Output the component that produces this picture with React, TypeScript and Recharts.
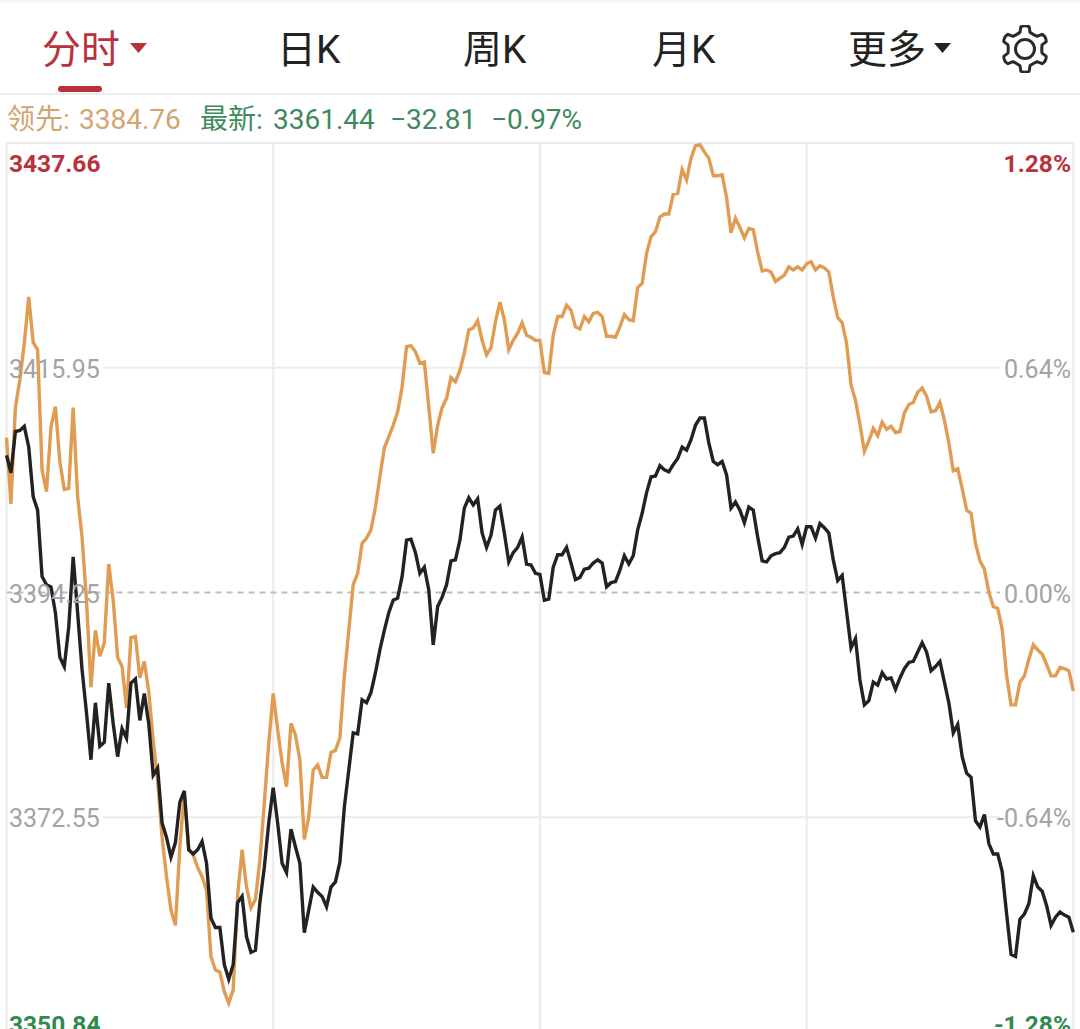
import React from "react";
import { LineChart, Line, XAxis, YAxis, ReferenceLine } from "recharts";

const minutes: number[] = Array.from({ length: 241 }, (_, i) => i);

const leadValues = [
3409.2,3402.8,3412.1,3414.8,3418.3,3422.8,3418.4,3417.7,3406.1,3404.0,
3410.2,3412.2,3406.9,3404.2,3404.3,3412.1,3403.5,3399.6,3393.5,3385.1,
3390.6,3388.1,3389.4,3397.0,3393.5,3388.0,3387.1,3383.1,3389.9,3390.0,
3386.0,3387.6,3384.7,3380.0,3376.1,3370.6,3366.8,3363.6,3362.1,3369.7,
3374.9,3369.4,3368.9,3367.7,3366.8,3365.5,3359.1,3357.8,3357.6,3355.7,
3354.6,3355.9,3365.0,3369.4,3365.8,3363.8,3364.6,3368.4,3373.9,3379.7,
3384.5,3381.0,3377.8,3375.5,3381.6,3380.5,3378.1,3370.4,3372.6,3377.1,
3377.6,3376.4,3376.4,3378.8,3379.0,3380.2,3386.1,3390.6,3395.0,3396.1,
3399.0,3399.5,3400.3,3402.5,3405.4,3408.2,3409.3,3410.4,3411.7,3414.1,
3418.0,3418.1,3417.5,3416.4,3416.5,3412.2,3407.7,3410.4,3412.1,3413.0,
3415.0,3414.6,3415.7,3417.4,3419.6,3419.8,3420.5,3418.6,3417.2,3417.9,
3420.4,3422.3,3420.6,3417.7,3418.6,3419.3,3420.3,3419.1,3418.9,3418.6,
3418.6,3415.5,3415.4,3419.1,3420.9,3420.9,3422.0,3421.5,3419.9,3419.7,
3420.9,3420.4,3421.2,3421.3,3420.9,3419.0,3419.0,3418.9,3419.9,3421.1,
3420.6,3420.5,3423.7,3424.1,3427.0,3428.6,3429.1,3430.5,3430.8,3430.8,
3432.7,3432.8,3435.1,3434.1,3436.2,3437.4,3437.5,3436.8,3436.2,3434.5,
3434.5,3434.6,3432.4,3429.0,3430.4,3429.5,3428.5,3429.4,3429.3,3427.1,
3425.3,3425.4,3425.2,3424.3,3424.6,3424.9,3425.7,3425.4,3425.7,3425.4,
3426.0,3426.2,3425.4,3425.8,3425.6,3425.2,3422.8,3420.8,3420.3,3418.3,
3414.3,3412.8,3410.5,3407.9,3408.9,3410.1,3409.4,3410.7,3410.0,3410.3,
3409.7,3409.8,3411.6,3412.4,3412.6,3413.6,3414.0,3413.2,3411.7,3411.8,
3412.6,3410.9,3408.7,3406.0,3406.2,3404.3,3402.2,3401.9,3399.0,3397.3,
3396.5,3394.3,3392.9,3392.7,3390.7,3386.2,3383.4,3383.4,3385.6,3386.2,
3387.8,3389.2,3388.7,3388.3,3387.3,3386.2,3386.2,3387.0,3386.9,3386.7,
3384.76,
];

const latestValues = [
3407.5,3405.8,3409.8,3409.9,3410.3,3408.3,3403.5,3402.2,3395.8,3395.0,
3394.8,3392.3,3388.0,3387.1,3390.9,3397.7,3392.3,3386.8,3382.6,3378.1,
3383.6,3379.4,3379.8,3385.5,3381.6,3378.4,3381.1,3380.2,3385.5,3385.9,
3381.9,3384.5,3381.6,3376.6,3377.3,3372.0,3370.6,3368.7,3370.1,3374.0,
3375.1,3369.4,3369.0,3369.4,3370.2,3368.1,3362.8,3361.9,3361.9,3358.3,
3356.9,3358.3,3364.3,3364.9,3361.0,3359.5,3359.7,3364.3,3367.7,3372.0,
3375.4,3372.0,3368.1,3367.2,3371.4,3369.7,3368.1,3361.4,3363.6,3365.8,
3365.3,3364.9,3363.9,3365.8,3366.3,3368.2,3373.5,3377.1,3380.7,3380.6,
3383.9,3383.6,3384.6,3386.5,3388.7,3390.6,3392.3,3393.5,3393.7,3395.8,
3399.3,3399.4,3398.1,3396.1,3396.7,3394.5,3389.2,3392.9,3393.8,3395.0,
3397.3,3397.4,3399.3,3402.4,3403.4,3402.7,3403.3,3400.0,3398.6,3399.8,
3402.2,3402.6,3400.0,3397.2,3398.1,3398.6,3399.6,3397.0,3396.9,3396.1,
3396.0,3393.5,3393.6,3396.7,3397.9,3397.9,3398.6,3397.1,3395.5,3395.7,
3396.5,3396.6,3397.1,3397.4,3397.1,3394.8,3395.2,3395.3,3396.4,3397.8,
3397.0,3397.8,3400.3,3401.9,3403.9,3405.4,3405.5,3406.5,3406.1,3405.9,
3406.6,3407.2,3408.3,3408.0,3409.0,3410.4,3411.1,3411.1,3408.7,3406.9,
3406.6,3406.9,3405.6,3402.4,3403.0,3402.2,3401.0,3402.5,3402.2,3399.6,
3397.3,3397.2,3397.8,3398.0,3398.1,3398.6,3399.6,3399.7,3400.4,3398.9,
3400.6,3400.6,3399.5,3400.9,3400.5,3400.0,3397.4,3395.4,3395.9,3392.4,
3388.9,3389.8,3385.8,3383.4,3383.8,3385.6,3385.3,3386.5,3385.9,3386.0,
3384.9,3386.0,3386.9,3387.5,3387.6,3388.5,3389.4,3388.5,3386.7,3387.1,
3387.6,3385.6,3383.6,3380.7,3381.5,3378.4,3376.8,3376.4,3372.2,3371.6,
3372.8,3370.0,3369.0,3369.0,3367.3,3363.2,3359.3,3359.1,3362.7,3363.2,
3364.2,3366.9,3365.8,3365.4,3364.0,3362.1,3362.9,3363.4,3363.1,3362.9,
3361.44,
];

const priceTicks = [3437.66, 3415.95, 3394.25, 3372.55, 3350.84];
const priceLabels = ["3437.66", "3415.95", "3394.25", "3372.55", "3350.84"];
const percentLabels = ["1.28%", "0.64%", "0.00%", "-0.64%", "-1.28%"];
const sessionMarks = [60, 120, 180];
const tabs = [
  { label: "分时", left: 42, active: true },
  { label: "日K", left: 277, active: false },
  { label: "周K", left: 463, active: false },
  { label: "月K", left: 652, active: false },
  { label: "更多", left: 848, active: false },
];
const quoteItems = [
  { text: "领先:", left: 7, color: "#d3a56f" },
  { text: "3384.76", left: 79, color: "#d3a56f" },
  { text: "最新:", left: 200, color: "#3f8a5c" },
  { text: "3361.44", left: 273, color: "#3f8a5c" },
  { text: "−32.81", left: 390, color: "#3f8a5c" },
  { text: "−0.97%", left: 491, color: "#3f8a5c" },
];

const rows = minutes.map((m, i) => ({ m, lead: leadValues[i], latest: latestValues[i] }));

const RED = "#b8323c";
const GREEN = "#2f8a50";
const GRID = "#ebebeb";
const FONT = 'Roboto, "Noto Sans CJK SC", sans-serif';

function tickStyle(index: number) {
  if (index === 0) return { fill: RED, fontWeight: 700, dy: 29 };
  if (index === priceTicks.length - 1) return { fill: GREEN, fontWeight: 700, dy: -9 };
  return { fill: "#a3a3a3", fontWeight: 400, dy: 10 };
}

function BothTicks(props: any) {
  const idx = priceTicks.indexOf(props.payload.value);
  const s = tickStyle(idx);
  const size = s.fontWeight === 700 ? 24.5 : 25;
  return (
    <g>
      <text x={9} y={props.y + s.dy} textAnchor="start" fill={s.fill} fontWeight={s.fontWeight} fontFamily={FONT} fontSize={size}>
        {priceLabels[idx]}
      </text>
      <text x={1071} y={props.y + s.dy} textAnchor="end" fill={s.fill} fontWeight={s.fontWeight} fontFamily={FONT} fontSize={size}>
        {percentLabels[idx]}
      </text>
    </g>
  );
}

function Gear() {
  const teeth = 6;
  const pts: string[] = [];
  const cx = 24, cy = 24;
  for (let i = 0; i < teeth; i++) {
    const a = (i * Math.PI * 2) / teeth - Math.PI / 2;
    const step = Math.PI / teeth;
    const p = (r: number, t: number) => `${(cx + r * Math.cos(t)).toFixed(2)} ${(cy + r * Math.sin(t)).toFixed(2)}`;
    pts.push(`${i === 0 ? "M" : "L"}${p(22.5, a - step * 0.36)}`);
    pts.push(`Q${p(24.5, a)} ${p(22.5, a + step * 0.36)}`);
    pts.push(`L${p(17.5, a + step * 0.55)}`);
    pts.push(`Q${p(16.5, a + step)} ${p(17.5, a + step * 1.45)}`);
  }
  return (
    <svg width={48} height={48} viewBox="0 0 48 48" style={{ position: "absolute", left: 1001, top: 25 }}>
      <path d={pts.join(" ") + "Z"} fill="none" stroke="#2a2a2a" strokeWidth={3} strokeLinejoin="round" />
      <circle cx={24} cy={24} r={9.5} fill="none" stroke="#2a2a2a" strokeWidth={3} />
    </svg>
  );
}

function Triangle({ left, color }: { left: number; color: string }) {
  return (
    <svg width={18} height={11} style={{ position: "absolute", left, top: 43 }}>
      <polygon points="0,0 17,0 8.5,10" fill={color} />
    </svg>
  );
}

export default function App() {
  return (
    <div style={{ position: "absolute", left: 0, top: 0, width: 1080, height: 1029, overflow: "hidden", background: "#fff", fontFamily: FONT }}>
      <div style={{ position: "absolute", left: 0, top: 0, width: 1080, height: 3, background: "#f6f6f6" }} />
      {tabs.map((t) => (
        <div key={t.label} style={{ position: "absolute", left: t.left, top: 25, lineHeight: "50px", fontSize: 39, color: t.active ? RED : "#222", whiteSpace: "nowrap" }}>
          {t.label}
        </div>
      ))}
      <Triangle left={130} color={RED} />
      <Triangle left={934} color="#222" />
      <Gear />
      <div style={{ position: "absolute", left: 58, top: 86, width: 44, height: 6, borderRadius: 3, background: RED }} />
      <div style={{ position: "absolute", left: 0, top: 93, width: 1080, height: 2, background: "#eeeeee" }} />
      {quoteItems.map((q) => (
        <div key={q.text} style={{ position: "absolute", left: q.left, top: 102, lineHeight: "36px", fontSize: 28, color: q.color, whiteSpace: "nowrap" }}>
          {q.text}
        </div>
      ))}
      <div style={{ position: "absolute", left: 0, top: 0 }}>
        <LineChart width={1080} height={1043} data={rows} margin={{ top: 143, left: 6.5, right: 6.7, bottom: 1 }}>
          <XAxis dataKey="m" type="number" domain={[0, 240]} hide />
          <YAxis yAxisId="left" orientation="left" mirror width={100} domain={[3350.84, 3437.66]} ticks={priceTicks} interval={0} axisLine={false} tickLine={false} tick={BothTicks} />
          <ReferenceLine yAxisId="left" x={0} stroke={GRID} strokeWidth={2} />
          <ReferenceLine yAxisId="left" x={240} stroke={GRID} strokeWidth={2} />
          <ReferenceLine yAxisId="left" y={priceTicks[0]} stroke={GRID} strokeWidth={2} />
          {sessionMarks.map((x) => (
            <ReferenceLine key={x} yAxisId="left" x={x} stroke={GRID} strokeWidth={2} />
          ))}
          {[priceTicks[1], priceTicks[3]].map((y) => (
            <ReferenceLine key={y} yAxisId="left" segment={[{ x: 21.7, y }, { x: 223.5, y }]} stroke={GRID} strokeWidth={2} />
          ))}
          <ReferenceLine yAxisId="left" segment={[{ x: 0, y: priceTicks[2] }, { x: 223.5, y: priceTicks[2] }]} stroke="#bdbdbd" strokeWidth={2} strokeDasharray="6 5" />
          <Line yAxisId="left" type="linear" dataKey="lead" stroke="#e09c52" strokeWidth={3.4} dot={false} isAnimationActive={false} />
          <Line yAxisId="left" type="linear" dataKey="latest" stroke="#222222" strokeWidth={3.4} dot={false} isAnimationActive={false} />
        </LineChart>
      </div>
    </div>
  );
}
